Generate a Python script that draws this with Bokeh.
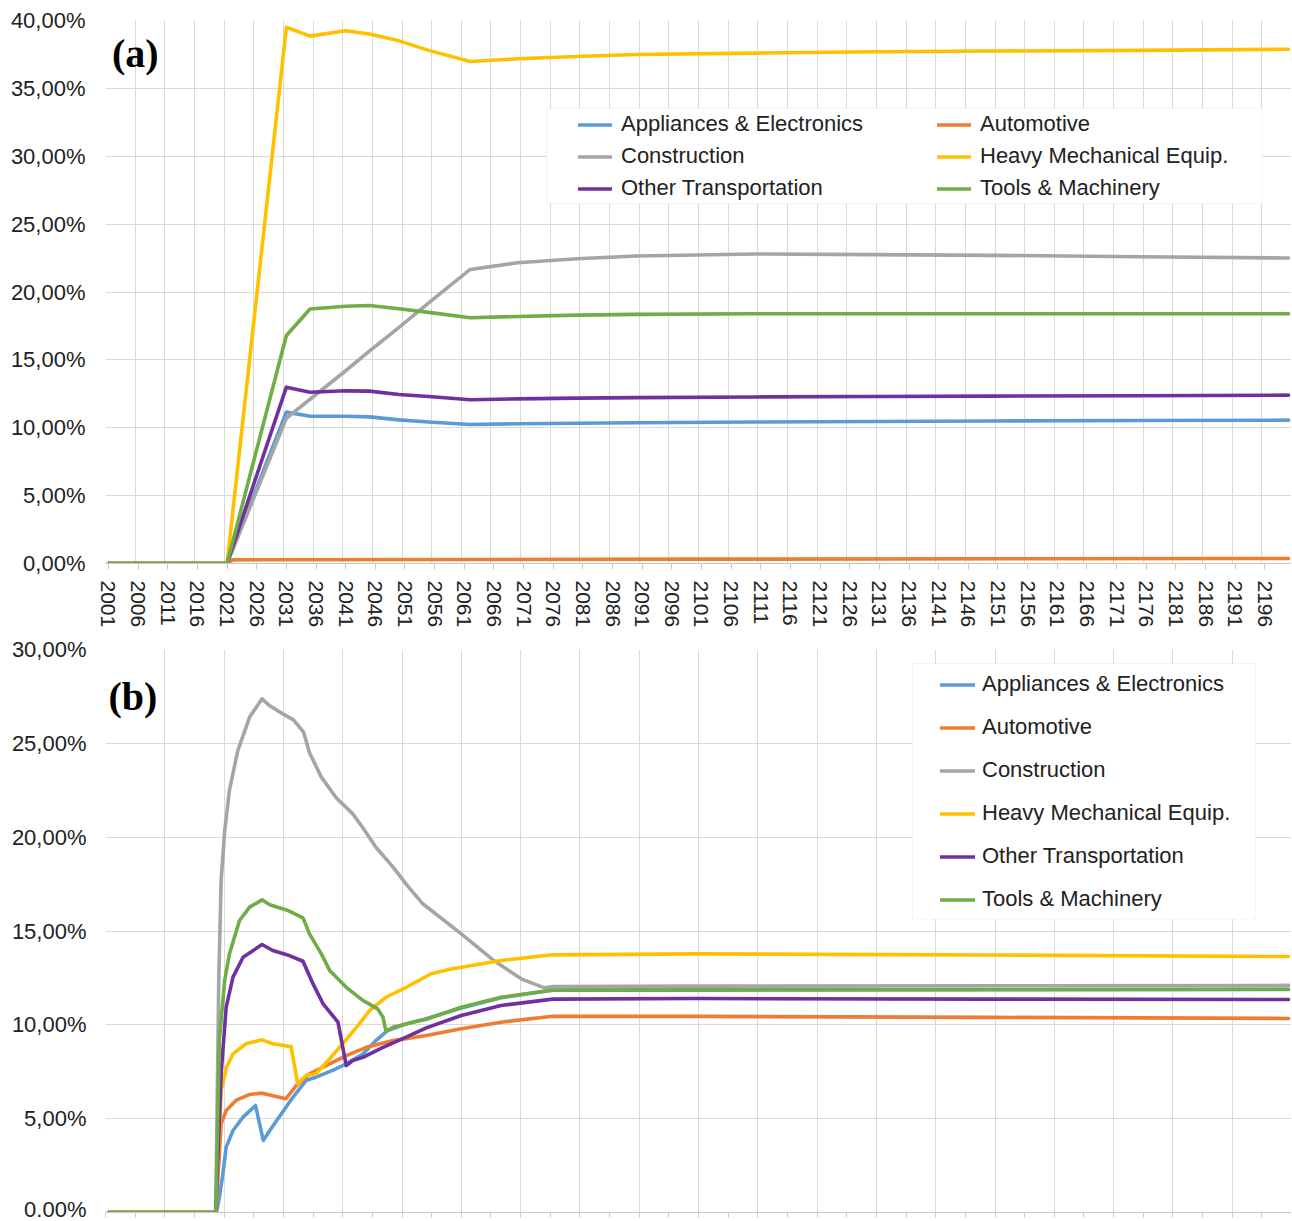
from bokeh.plotting import figure
from bokeh.models import Range1d, FixedTicker, Legend, LegendItem, BoxAnnotation, Label
from bokeh.layouts import column
from bokeh.embed import file_html
from bokeh.resources import INLINE

# ---------------- data ----------------
names = ["Appliances & Electronics", "Automotive", "Construction",
         "Heavy Mechanical Equip.", "Other Transportation", "Tools & Machinery"]
colors = ["#5B9BD5", "#ED7D31", "#A5A5A5", "#FFC000", "#7030A0", "#70AD47"]

# panel (a) - years
years_a = [2001, 2021, 2031, 2035, 2041, 2045, 2050, 2055, 2062, 2070, 2080, 2090, 2110, 2130, 2150, 2175, 2200]
appl_a = [0, 0, 11.15, 10.85, 10.85, 10.8, 10.58, 10.42, 10.24, 10.29, 10.33, 10.37, 10.42, 10.46, 10.5, 10.53, 10.56]
constr_a = [0, 0, 10.7, 12.1, 14.2, 15.65, 17.4, 19.2, 21.66, 22.15, 22.45, 22.65, 22.8, 22.75, 22.7, 22.6, 22.5]
heavy_a = [0, 0, 39.5, 38.85, 39.25, 39.0, 38.5, 37.8, 36.98, 37.18, 37.35, 37.5, 37.6, 37.7, 37.75, 37.8, 37.88]
other_a = [0, 0, 12.99, 12.62, 12.72, 12.7, 12.45, 12.3, 12.06, 12.13, 12.18, 12.22, 12.27, 12.3, 12.33, 12.36, 12.4]
tools_a = [0, 0, 16.8, 18.75, 18.95, 19.0, 18.76, 18.5, 18.1, 18.2, 18.3, 18.35, 18.4, 18.4, 18.4, 18.4, 18.4]
auto_years_a = [2001, 2021, 2022, 2100, 2200]
auto_a = [0, 0, 0.27, 0.32, 0.37]

# panel (b)
appl_bx = [2001, 2019.2, 2019.7, 2020.3, 2020.85, 2022.0, 2023.7, 2025.8, 2027.1, 2028.2, 2032.1, 2034.3, 2036.0,
           2038.8, 2041.1, 2043.9, 2046.1, 2048.1, 2051.2, 2054.6, 2060.5, 2067.2, 2075.9, 2100, 2150, 2200]
appl_by = [0, 0, 0.82, 2.06, 3.48, 4.37, 5.08, 5.7, 3.84, 4.37, 6.14, 7.03, 7.21,
           7.57, 7.92, 8.45, 9.16, 9.7, 10.05, 10.32, 10.9, 11.44, 11.84, 11.85, 11.87, 11.88]
auto_bx = [2001, 2019.1, 2020.0, 2020.85, 2022.5, 2024.8, 2026.9, 2030.9, 2032.7, 2034.9, 2037.7, 2041.1, 2044.5,
           2049.0, 2054.6, 2060.5, 2067.2, 2075.9, 2100, 2150, 2200]
auto_by = [0, 0, 4.72, 5.43, 5.97, 6.29, 6.36, 6.06, 6.77, 7.39, 7.83, 8.36, 8.8,
           9.16, 9.43, 9.79, 10.14, 10.46, 10.45, 10.4, 10.34]
constr_bx = [2001, 2019.1, 2019.6, 2020.0, 2020.6, 2021.4, 2022.8, 2024.8, 2026.9, 2028.2, 2030.4, 2032.2, 2033.9,
             2034.9, 2036.9, 2039.4, 2042.2, 2043.9, 2046.1, 2049.0, 2051.2, 2054.0, 2060.5, 2066.1, 2070.6, 2074.5,
             2076, 2100, 2150, 2200]
constr_by = [0, 0, 12.4, 17.7, 20.35, 22.5, 24.6, 26.4, 27.37, 27.0, 26.57, 26.25, 25.6,
             24.5, 23.2, 22.1, 21.24, 20.5, 19.46, 18.4, 17.5, 16.45, 14.85, 13.4, 12.45, 11.97,
             12.04, 12.06, 12.08, 12.1]
heavy_bx = [2001, 2019.1, 2020.0, 2020.9, 2022.0, 2024.2, 2026.9, 2028.7, 2031.8, 2032.9, 2034.3, 2036.0, 2038.3,
            2040.5, 2043.3, 2045.0, 2047.8, 2051.2, 2055.4, 2058.8, 2067.2, 2075.9, 2100, 2150, 2200]
heavy_by = [0, 0, 6.5, 7.74, 8.45, 8.99, 9.2, 8.99, 8.84, 6.86, 7.3, 7.39, 8.19,
            8.99, 10.05, 10.76, 11.47, 12.0, 12.72, 12.98, 13.43, 13.73, 13.78, 13.72, 13.64]
other_bx = [2001, 2019.1, 2020.0, 2020.85, 2022.0, 2023.7, 2026.9, 2028.7, 2031.5, 2033.8, 2035.5, 2037.2, 2039.7,
            2041.1, 2042.2, 2043.9, 2047.3, 2051.2, 2054.6, 2060.5, 2067.2, 2075.9, 2100, 2150, 2200]
other_by = [0, 0, 7.39, 10.94, 12.54, 13.6, 14.28, 13.96, 13.69, 13.39, 12.18, 11.12, 10.14,
            7.83, 8.1, 8.27, 8.8, 9.34, 9.84, 10.5, 11.03, 11.37, 11.4, 11.37, 11.35]
tools_bx = [2001, 2019.1, 2019.7, 2020.6, 2021.4, 2023.1, 2024.8, 2026.9, 2028.2, 2031.3, 2033.8, 2034.9, 2036.9,
            2038.3, 2041.1, 2043.9, 2046.4, 2047.3, 2047.8, 2049.0, 2052.3, 2054.6, 2060.5, 2067.2, 2075.9,
            2100, 2150, 2200]
tools_by = [0, 0, 9.2, 12.36, 13.78, 15.56, 16.27, 16.66, 16.4, 16.09, 15.7, 14.85, 13.78,
            12.9, 12.0, 11.3, 10.85, 10.4, 9.66, 9.87, 10.14, 10.3, 10.94, 11.47, 11.86,
            11.87, 11.88, 11.9]

yticks_a = [0, 5, 10, 15, 20, 25, 30, 35, 40]
ylabels_a = ["0,00%", "5,00%", "10,00%", "15,00%", "20,00%", "25,00%", "30,00%", "35,00%", "40,00%"]
yticks_b = [0, 5, 10, 15, 20, 25, 30]
ylabels_b = ["0.00%", "5,00%", "10,00%", "15,00%", "20,00%", "25,00%", "30,00%"]
xlabel_years = list(range(2001, 2200, 5))

# ---------------- style ----------------
FONT = "Liberation Sans"
TXT = "#222222"
GRID = "#D9D9D9"
AXIS = "#C8C8C8"
LW = 3.6
LEFT = 105


def make_fig(height, ymax, top, bottom, yticks, ylabels, standoff):
    p = figure(width=1291, height=height, x_range=Range1d(2000.5, 2200.5), y_range=Range1d(0, ymax),
               output_backend="svg", toolbar_location=None, tools="",
               min_border_left=LEFT, min_border_right=0, min_border_top=top, min_border_bottom=bottom)
    p.outline_line_color = None
    p.yaxis.ticker = FixedTicker(ticks=yticks)
    p.yaxis.major_label_overrides = {t: l for t, l in zip(yticks, ylabels)}
    p.yaxis.axis_line_color = None
    p.yaxis.major_tick_line_color = None
    p.yaxis.major_tick_out = 0
    p.yaxis.major_tick_in = 0
    p.yaxis.minor_tick_line_color = None
    p.yaxis.major_label_standoff = standoff
    p.yaxis.major_label_text_font = FONT
    p.yaxis.major_label_text_font_size = "22px"
    p.yaxis.major_label_text_color = TXT
    p.ygrid.grid_line_color = GRID
    p.xgrid.grid_line_color = GRID
    p.xaxis.minor_tick_line_color = None
    p.xaxis.major_tick_in = 0
    p.xaxis.major_tick_line_color = AXIS
    p.xaxis.axis_line_color = AXIS
    return p


# ---------------- panel (a) ----------------
p1 = make_fig(634, 40, 20, 71, yticks_a, ylabels_a, 20)
p1.xaxis.ticker = FixedTicker(ticks=xlabel_years)
p1.xaxis.major_label_orientation = "vertical"
p1.xaxis.major_label_text_font = FONT
p1.xaxis.major_label_text_font_size = "21px"
p1.xaxis.major_label_text_color = TXT
p1.xaxis.major_label_standoff = 11
p1.xaxis.major_tick_out = 6
p1.xgrid.ticker = FixedTicker(ticks=[2000.5 + 5 * k for k in range(41)])

series_a = [(years_a, appl_a), (auto_years_a, auto_a), (years_a, constr_a),
            (years_a, heavy_a), (years_a, other_a), (years_a, tools_a)]
rend_a = []
for (xs, ys), c in zip(series_a, colors):
    rend_a.append(p1.line(xs, ys, line_color=c, line_width=LW, line_join="round", line_cap="round"))

box_a = BoxAnnotation(left=2074.87, right=2195.6, top=33.52, bottom=26.52,
                      fill_color="white", fill_alpha=1, line_color=GRID, line_width=1)
p1.add_layout(box_a)
leg_a = Legend(items=[LegendItem(label=n, renderers=[r]) for n, r in zip(names, rend_a)],
               location=(578 - LEFT, 362), orientation="horizontal", ncols=2, padding=0, spacing=6, margin=0,
               glyph_width=34, glyph_height=25, label_height=25, label_width=310, label_standoff=9,
               border_line_color=None, background_fill_alpha=0,
               label_text_font=FONT, label_text_font_size="22px", label_text_color=TXT)
p1.add_layout(leg_a)
p1.add_layout(Label(x=2001.6, y=35.9, text="(a)", text_font="Liberation Serif", text_font_style="bold",
                    text_font_size="40px", text_color="black"))

# ---------------- panel (b) ----------------
p2 = make_fig(587, 30, 15, 9, yticks_b, ylabels_b, 19)
tick_b = [2000.5 + 5 * k for k in range(41)]
p2.xaxis.ticker = FixedTicker(ticks=tick_b)
p2.xaxis.major_label_overrides = {t: "" for t in tick_b}
p2.xaxis.major_label_text_font_size = "1px"
p2.xaxis.major_label_standoff = 0
p2.xaxis.major_tick_out = 5
p2.xgrid.ticker = FixedTicker(ticks=[2000.5 + 10 * k for k in range(21)])

series_b = [(appl_bx, appl_by), (auto_bx, auto_by), (constr_bx, constr_by),
            (heavy_bx, heavy_by), (other_bx, other_by), (tools_bx, tools_by)]
rend_b = []
for (xs, ys), c in zip(series_b, colors):
    rend_b.append(p2.line(xs, ys, line_color=c, line_width=LW, line_join="round", line_cap="round"))

box_b = BoxAnnotation(left=2136.6, right=2194.4, top=29.25, bottom=15.64,
                      fill_color="white", fill_alpha=1, line_color=GRID, line_width=1)
p2.add_layout(box_b)
leg_b = Legend(items=[LegendItem(label=n, renderers=[r]) for n, r in zip(names, rend_b)],
               location=(940 - LEFT, 300), orientation="vertical", padding=0, spacing=17, margin=0,
               glyph_width=35, glyph_height=25, label_height=25, label_standoff=7,
               border_line_color=None, background_fill_alpha=0,
               label_text_font=FONT, label_text_font_size="22px", label_text_color=TXT)
p2.add_layout(leg_b)
p2.add_layout(Label(x=2001.0, y=26.32, text="(b)", text_font="Liberation Serif", text_font_style="bold",
                    text_font_size="40px", text_color="black"))

root = column(p1, p2, spacing=0)
open("out.html", "w").write(file_html(root, INLINE))
